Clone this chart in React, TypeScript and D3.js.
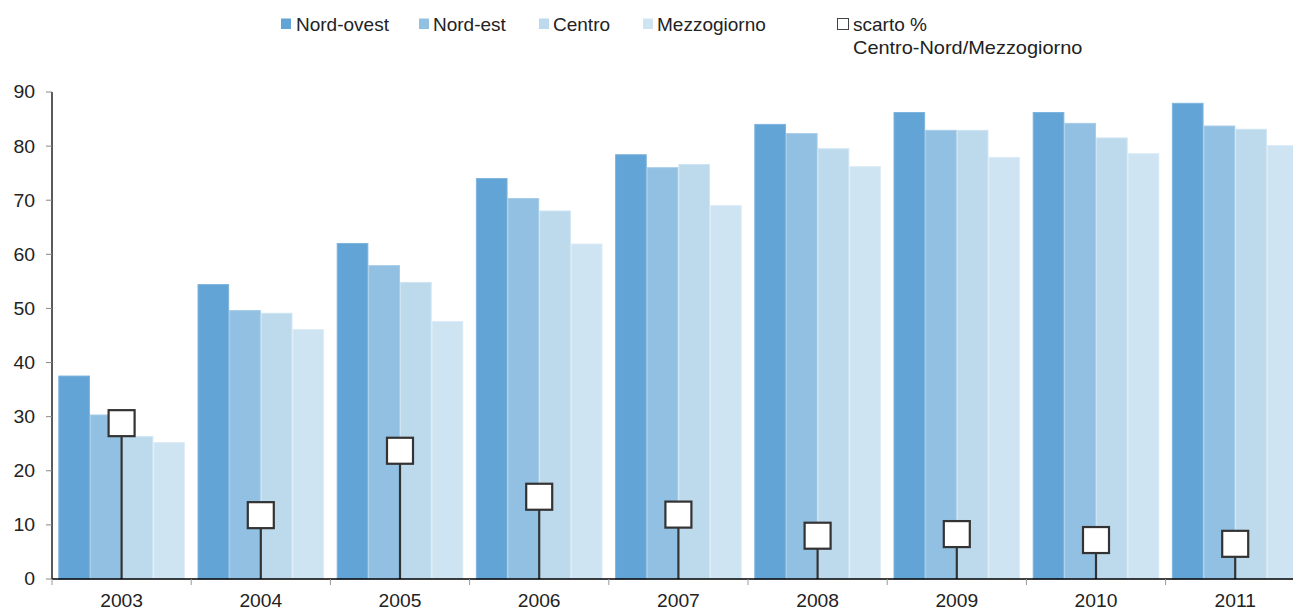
import React from "react";
import * as d3 from "d3";

const years = ["2003", "2004", "2005", "2006", "2007", "2008", "2009", "2010", "2011"];
const seriesNames = ["Nord-ovest", "Nord-est", "Centro", "Mezzogiorno"];
const nordOvest = [37.6, 54.5, 62.1, 74.1, 78.5, 84.1, 86.3, 86.3, 88.0];
const nordEst = [30.4, 49.7, 58.0, 70.4, 76.1, 82.4, 83.0, 84.3, 83.8];
const centro = [26.4, 49.2, 54.9, 68.1, 76.7, 79.6, 83.0, 81.6, 83.2];
const mezzogiorno = [25.3, 46.2, 47.7, 62.0, 69.1, 76.3, 78.0, 78.7, 80.2];
const scarto = [28.8, 11.8, 23.7, 15.2, 11.9, 8.0, 8.3, 7.2, 6.5];
const yTicks = [0, 10, 20, 30, 40, 50, 60, 70, 80, 90];

const colors = ["#62a4d5", "#91c0e2", "#bddaed", "#cee4f2"];
const edge = ["#7db4de", "#a6cce8", "#cfe4f2", "#ddecf6"];

export default function App() {
  const W = 1293, H = 610;
  const left = 52, bottom = 579, top = 92;
  const step = 139.2;
  const x = d3.scaleBand<string>().domain(years).range([left, left + step * years.length]).padding(0);
  const inner = d3.scaleBand<string>().domain(seriesNames).range([6.3, step - 6.3]).padding(0);
  const y = d3.scaleLinear().domain([0, 90]).range([bottom, top]);
  const data = [nordOvest, nordEst, centro, mezzogiorno];
  const font = "Liberation Sans, Arial, sans-serif";
  const sq = 26;

  const legendItems = [
    { sx: 281, tx: 296 },
    { sx: 419, tx: 433 },
    { sx: 539, tx: 553 },
    { sx: 643, tx: 657 },
  ];

  return (
    <svg width={W} height={H} style={{ position: "absolute", left: 0, top: 0 }} fontFamily={font}>
      <rect x={0} y={0} width={W} height={H} fill="#fff" />
      {/* bars */}
      {years.map((yr, i) => (
        <g key={yr}>
          {seriesNames.map((s, k) => {
            const bx = (x(yr) as number) + (inner(s) as number);
            const v = data[k][i];
            return (
              <rect key={s} x={bx + 0.5} y={y(v) + 0.5} width={inner.bandwidth() - 1} height={bottom - y(v) - 0.5}
                fill={colors[k]} stroke={edge[k]} strokeWidth={1} />
            );
          })}
        </g>
      ))}
      {/* scarto markers */}
      {years.map((yr, i) => {
        const cx = (x(yr) as number) + step / 2;
        const cy = y(scarto[i]);
        return (
          <g key={"m" + yr}>
            <line x1={cx} x2={cx} y1={cy + sq / 2} y2={bottom} stroke="#333" strokeWidth={2.2} />
            <rect x={cx - sq / 2} y={cy - sq / 2} width={sq} height={sq} fill="#fff" stroke="#333" strokeWidth={2.2} />
          </g>
        );
      })}
      {/* y axis */}
      <line x1={left} x2={left} y1={top} y2={bottom} stroke="#000" strokeWidth={1.3} />
      {yTicks.map((t) => (
        <g key={t}>
          <line x1={left - 6} x2={left} y1={y(t)} y2={y(t)} stroke="#888" strokeWidth={1} />
          <text x={35} y={y(t) + 6.5} textAnchor="end" fontSize={18} fill="#222"
            transform={`translate(35,0) scale(1.08,1) translate(-35,0)`}>{t}</text>
        </g>
      ))}
      {/* x axis */}
      <line x1={left} x2={W} y1={bottom} y2={bottom} stroke="#000" strokeWidth={1.5} />
      {years.map((yr) => (
        <line key={"t" + yr} x1={x(yr) as number} x2={x(yr) as number} y1={bottom} y2={bottom + 6} stroke="#999" strokeWidth={1} />
      ))}
      {years.map((yr) => {
        const cx = (x(yr) as number) + step / 2;
        return (
          <text key={"l" + yr} x={cx} y={607} textAnchor="middle" fontSize={17.5} fill="#222"
            transform={`translate(${cx},0) scale(1.1,1) translate(${-cx},0)`}>{yr}</text>
        );
      })}
      {/* legend */}
      {seriesNames.map((s, k) => (
        <g key={"lg" + s}>
          <rect x={legendItems[k].sx} y={18.5} width={10} height={10.5} fill={colors[k]} />
          <text x={legendItems[k].tx} y={31} fontSize={19} fill="#222">{s}</text>
        </g>
      ))}
      <rect x={837.5} y={18.5} width={11} height={11} fill="#fff" stroke="#444" strokeWidth={1} />
      <text x={853} y={31} fontSize={19} fill="#222">scarto %</text>
      <text x={853} y={54} fontSize={19} fill="#222"
        transform="translate(853,0) scale(1.05,1) translate(-853,0)">Centro-Nord/Mezzogiorno</text>
    </svg>
  );
}
